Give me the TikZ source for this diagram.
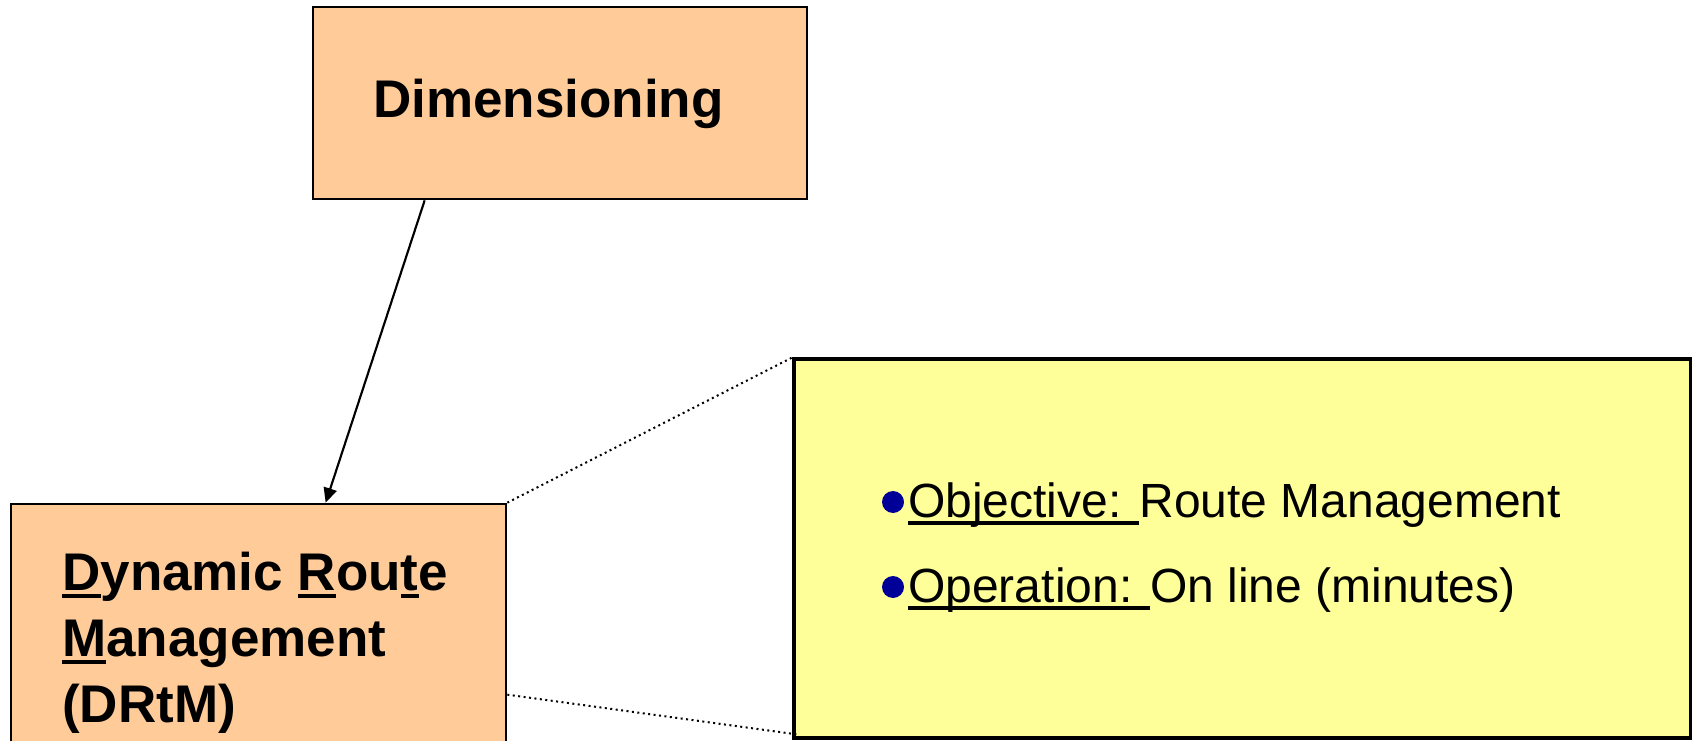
\documentclass[tikz,border=0pt]{standalone}
\usepackage{fontspec}
\setmainfont{Liberation Sans}
\usetikzlibrary{calc,arrows.meta}

\definecolor{peach}{RGB}{255,204,153}
\definecolor{paleyellow}{RGB}{255,255,153}
\definecolor{bulletblue}{RGB}{0,0,153}

\newcommand{\ulbig}[1]{\setbox0\hbox{#1}\rlap{\rule[-0.16em]{\wd0}{0.09em}}\box0}
\newcommand{\ulsmall}[1]{\setbox0\hbox{#1}\rlap{\rule[-0.167em]{\wd0}{0.083em}}\box0}

\begin{document}
\begin{tikzpicture}[x=0.75pt,y=-0.75pt,
    orangebox/.style={draw=black,line width=2pt,fill=peach,inner sep=0pt},
    notebox/.style={draw=black,line width=2.4pt,fill=paleyellow,inner sep=0pt},
    boxlabel/.style={inner sep=0pt,font=\fontsize{39.75}{49.5}\selectfont\bfseries,align=left},
    noteline/.style={inner sep=0pt,anchor=base west,font=\fontsize{36}{43}\selectfont},
    zoomline/.style={line width=1.5pt,dash pattern=on 1.5pt off 2.6pt}]
    \useasboundingbox (0,0) rectangle (1692,741);
    \clip (0,0) rectangle (1692,741);

    \node[orangebox,minimum width=370.5pt,minimum height=144pt] (dimbox) at (560,103) {};
    \node[boxlabel,anchor=base west] (dimtext) at (373,118) {Dimensioning};

    \node[orangebox,minimum width=371.25pt,minimum height=222pt] (drtmbox) at (258.5,652) {};
    \node[boxlabel,anchor=base west] (drtmtext) at (62,722)
    {\ulbig{D}ynamic \ulbig{R}ou\ulbig{t}e\\\ulbig{M}anagement\\(DRtM)};

    \node[notebox,minimum width=672.75pt,minimum height=284.25pt] (notebox) at (1242.5,548.5) {};
    \node[noteline] (objline) at (908,517) {\ulsmall{Objective: }Route Management};
    \node[noteline] (operline) at (908,602) {\ulsmall{Operation: }On line (minutes)};
    \fill[bulletblue] ($(objline.base west)+(-15,-15)$) circle[radius=8.25pt];
    \fill[bulletblue] ($(operline.base west)+(-15,-15)$) circle[radius=8.25pt];

    \draw[line width=1.6pt,-{Triangle[length=11pt,width=10pt]}]
    ($(dimbox.south west)+(113,0)$) -- ($(drtmbox.north west)+(316,0)$);

    \coordinate (drtmside) at ($(drtmbox.north east)+(0,192)$);
    \coordinate (noteend) at ($(notebox.south west)+(6,-5)$);
    \draw[zoomline] (drtmbox.north east) -- (notebox.north west);
    \draw[zoomline] (drtmside) -- (noteend);
\end{tikzpicture}
\end{document}
